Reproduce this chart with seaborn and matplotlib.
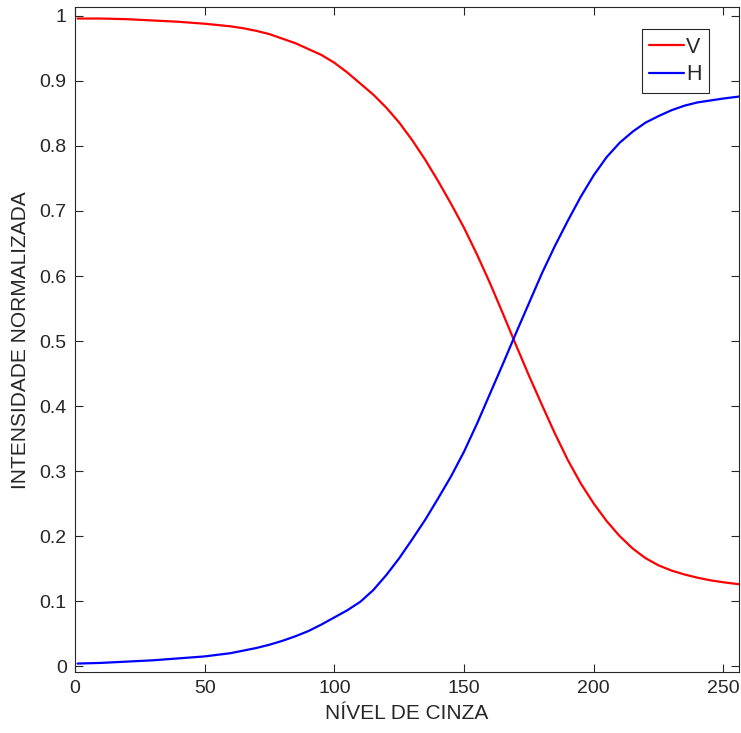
import pandas as pd
import matplotlib
matplotlib.use('Agg')
import matplotlib.pyplot as plt
import seaborn as sns

# valores
nivel = [1, 10, 20, 30, 40, 50, 60, 65, 70, 75, 80, 85, 90, 95, 100, 105, 110, 115,
         120, 125, 130, 135, 140, 145, 150, 155, 160, 165, 170, 175, 180, 185, 190,
         195, 200, 205, 210, 215, 220, 225, 230, 235, 240, 245, 250, 256]
curva_v = [0.996, 0.996, 0.995, 0.993, 0.991, 0.988, 0.984, 0.981, 0.977, 0.972,
           0.965, 0.958, 0.949, 0.940, 0.928, 0.913, 0.896, 0.879, 0.859, 0.836,
           0.809, 0.779, 0.746, 0.711, 0.674, 0.633, 0.589, 0.542, 0.494, 0.447,
           0.402, 0.358, 0.317, 0.281, 0.250, 0.223, 0.200, 0.181, 0.166, 0.155,
           0.147, 0.141, 0.136, 0.132, 0.129, 0.126]
curva_h = [0.004, 0.005, 0.007, 0.009, 0.012, 0.015, 0.020, 0.024, 0.028, 0.033,
           0.039, 0.046, 0.054, 0.064, 0.075, 0.086, 0.099, 0.117, 0.140, 0.166,
           0.195, 0.225, 0.258, 0.292, 0.330, 0.373, 0.419, 0.465, 0.512, 0.558,
           0.604, 0.646, 0.685, 0.722, 0.755, 0.783, 0.805, 0.822, 0.836, 0.846,
           0.855, 0.862, 0.867, 0.870, 0.873, 0.876]
xticks = [0, 50, 100, 150, 200, 250]
yticks = [0, 0.1, 0.2, 0.3, 0.4, 0.5, 0.6, 0.7, 0.8, 0.9, 1]

sns.set_style('ticks')
plt.rcParams['font.family'] = ['Liberation Sans', 'DejaVu Sans']

df = pd.DataFrame({'nivel': nivel, 'V': curva_v, 'H': curva_h})

fig = plt.figure(figsize=(7.41, 7.33), dpi=100)
ax = fig.add_axes([0.1012, 0.0832, 0.8961, 0.9066])
sns.lineplot(data=df, x='nivel', y='V', color='#ff0000', linewidth=1.6, label='V', ax=ax)
sns.lineplot(data=df, x='nivel', y='H', color='#0000ff', linewidth=1.6, label='H', ax=ax)

ax.set_xlim(0, 256)
ax.set_ylim(-0.009, 1.013)
ax.set_xticks(xticks)
ax.set_yticks(yticks)
ax.set_yticklabels([('%g' % t) for t in yticks])
ax.set_xlabel('NÍVEL DE CINZA', fontsize=15, color='#262626', labelpad=5)
ax.set_ylabel('INTENSIDADE NORMALIZADA', fontsize=15, color='#262626', labelpad=7)
ax.tick_params(direction='in', length=6, width=0.8, colors='#262626', labelsize=14,
               top=True, right=True, pad=6)
for s in ax.spines.values():
    s.set_visible(True)
    s.set_color('#262626')
    s.set_linewidth(0.8)

leg = ax.legend(loc='upper right', bbox_to_anchor=(0.955, 0.967), fontsize=15.5,
                frameon=True, fancybox=False, edgecolor='#262626', framealpha=1,
                handlelength=1.6, handletextpad=0.1, borderpad=0.35, labelspacing=0.3,
                borderaxespad=0)
leg.get_frame().set_linewidth(0.8)

fig.savefig('out.png', dpi=100)
